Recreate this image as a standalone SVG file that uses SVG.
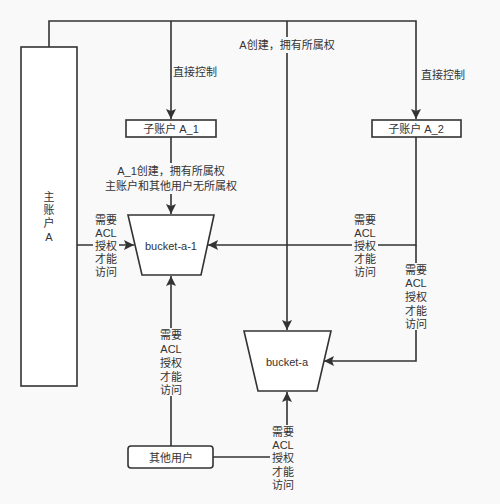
<svg xmlns="http://www.w3.org/2000/svg" width="500" height="504" viewBox="0 0 500 504">
<style>
.bg{fill:#f9f9f9}
.shape{fill:#ffffff;stroke:#333333;stroke-width:1.6}
.edge{fill:none;stroke:#333333;stroke-width:1.6}
.lbg{fill:#f9f9f9}
text{font-family:"Liberation Sans","Noto Sans CJK SC",sans-serif;font-size:11px;fill:#333333;text-anchor:middle;dominant-baseline:central}
</style>
<defs>
<marker id="arr" markerUnits="userSpaceOnUse" markerWidth="12" markerHeight="12" refX="10" refY="5" orient="auto">
<path d="M0,0 L10,5 L0,10 L2,5 Z" fill="#333333"/>
</marker>
</defs>
<rect class="bg" x="0" y="0" width="500" height="504"/>
<g id="connectors">
<path class="edge" d="M49,47 V21 H416 V119" marker-end="url(#arr)"/>
<path class="edge" d="M171,21 V119" marker-end="url(#arr)"/>
<path class="edge" d="M287,21 V330" marker-end="url(#arr)"/>
<path class="edge" d="M171,137 V214" marker-end="url(#arr)"/>
<path class="edge" d="M77,245 H134" marker-end="url(#arr)"/>
<path class="edge" d="M416,137 V245 H208" marker-end="url(#arr)"/>
<path class="edge" d="M416,245 V361 H324" marker-end="url(#arr)"/>
<path class="edge" d="M171,446 V276" marker-end="url(#arr)"/>
<path class="edge" d="M213,457 H287 V392" marker-end="url(#arr)"/>
</g>
<g id="labels">
<rect class="lbg" x="236" y="37" width="102" height="16"/>
<text x="287" y="45">A创建，拥有所属权</text>
<text x="195" y="72">直接控制</text>
<text x="443" y="75">直接控制</text>
<rect class="lbg" x="115" y="163" width="112" height="31"/>
<text x="171" y="171">A_1创建，拥有所属权</text>
<text x="171" y="186">主账户和其他用户无所属权</text>
<rect class="lbg" x="93" y="213" width="26" height="66"/>
<text x="106" y="220">需要</text><text x="106" y="233">ACL</text><text x="106" y="246">授权</text><text x="106" y="259">才能</text><text x="106" y="272">访问</text>
<rect class="lbg" x="352" y="213" width="26" height="66"/>
<text x="365" y="220">需要</text><text x="365" y="233">ACL</text><text x="365" y="246">授权</text><text x="365" y="259">才能</text><text x="365" y="272">访问</text>
<rect class="lbg" x="403" y="263" width="26" height="67"/>
<text x="416" y="270">需要</text><text x="416" y="283">ACL</text><text x="416" y="297">授权</text><text x="416" y="311">才能</text><text x="416" y="324">访问</text>
<rect class="lbg" x="158" y="328" width="26" height="68"/>
<text x="171" y="335">需要</text><text x="171" y="349">ACL</text><text x="171" y="363">授权</text><text x="171" y="377">才能</text><text x="171" y="390">访问</text>
<rect class="lbg" x="270" y="425" width="26" height="67"/>
<text x="283" y="432">需要</text><text x="283" y="445">ACL</text><text x="283" y="458">授权</text><text x="283" y="472">才能</text><text x="283" y="485">访问</text>
</g>
<g id="main-account">
<rect class="shape" x="21" y="47" width="56" height="339"/>
<text x="49" y="197">主</text><text x="49" y="210">账</text><text x="49" y="223">户</text><text x="49" y="237">A</text>
</g>
<g id="sub-a1">
<rect class="shape" x="126" y="120" width="90" height="17"/>
<text x="171" y="129">子账户 A_1</text>
</g>
<g id="sub-a2">
<rect class="shape" x="372" y="120" width="89" height="17"/>
<text x="416" y="129">子账户 A_2</text>
</g>
<g id="bucket-a-1">
<path class="shape" d="M128,215 H214 L201,275 H142 Z"/>
<text x="171" y="246">bucket-a-1</text>
</g>
<g id="bucket-a">
<path class="shape" d="M244,331 H331 L317,391 H258 Z"/>
<text x="287" y="362">bucket-a</text>
</g>
<g id="other-users">
<rect class="shape" x="128" y="446" width="85" height="22" rx="3"/>
<text x="171" y="458">其他用户</text>
</g>
</svg>
